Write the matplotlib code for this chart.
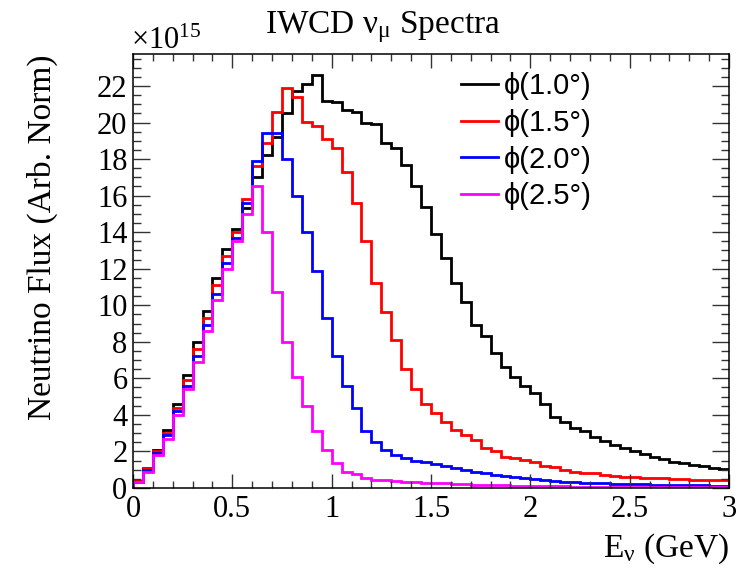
import numpy as np
import matplotlib
matplotlib.use("Agg")
import matplotlib.pyplot as plt
from matplotlib.ticker import MultipleLocator

plt.rcParams['font.family'] = ['Liberation Serif', 'DejaVu Serif']
plt.rcParams['mathtext.fontset'] = 'custom'
plt.rcParams['mathtext.rm'] = 'Liberation Serif'

# energy range of the histograms (GeV), 0.05 GeV bins
e_min, e_max = 0.0, 3.0

# flux per bin, units of 1e15 (Arb. Norm)
flux_10 = [0.4, 1.1, 2.1, 3.2, 4.6, 6.2, 8.0, 9.7, 11.5, 13.1, 14.2, 15.3, 17.0, 18.2, 19.2,
           20.5, 21.7, 22.1, 22.6, 21.2, 21.1, 20.7, 20.6, 20.0, 19.9, 18.9, 18.6, 17.7, 16.5,
           15.4, 13.9, 12.6, 11.2, 10.2, 8.9, 8.3, 7.4, 6.6, 6.1, 5.6, 5.2, 4.6, 3.9, 3.6, 3.3,
           3.1, 2.8, 2.55, 2.35, 2.17, 2.0, 1.85, 1.72, 1.6, 1.45, 1.35, 1.25, 1.2, 1.12, 1.05]
flux_15 = [0.4, 1.1, 2.0, 3.0, 4.4, 5.9, 7.6, 9.3, 11.1, 12.7, 14.0, 15.8, 17.6, 18.9, 20.6,
           21.9, 21.4, 20.05, 19.8, 19.1, 18.6, 17.3, 15.6, 13.5, 11.2, 9.65, 8.1, 6.5, 5.4,
           4.6, 4.1, 3.6, 3.17, 2.9, 2.63, 2.17, 2.0, 1.71, 1.62, 1.53, 1.44, 1.2, 1.17, 0.99,
           0.9, 0.84, 0.8, 0.7, 0.68, 0.62, 0.6, 0.57, 0.55, 0.52, 0.5, 0.48, 0.46, 0.45, 0.43, 0.42]
flux_20 = [0.35, 1.0, 1.9, 2.9, 4.2, 5.6, 7.2, 8.9, 10.6, 12.3, 13.7, 15.6, 17.9, 19.4, 19.4,
           18.0, 16.0, 14.0, 11.9, 9.3, 7.2, 5.6, 4.4, 3.1, 2.5, 2.1, 1.8, 1.65, 1.5,
           1.4, 1.3, 1.2, 1.08, 0.97, 0.88, 0.8, 0.72, 0.65, 0.58, 0.52, 0.47, 0.42, 0.38, 0.35,
           0.32, 0.3, 0.28, 0.26, 0.24, 0.22, 0.21, 0.2, 0.19, 0.18, 0.17, 0.16, 0.15, 0.14, 0.13, 0.12]
flux_25 = [0.35, 0.9, 1.8, 2.7, 4.0, 5.4, 6.9, 8.6, 10.3, 12.0, 13.5, 15.0, 16.5, 14.0, 10.7,
           8.0, 6.1, 4.5, 3.1, 2.1, 1.35, 0.9, 0.75, 0.55, 0.45, 0.42, 0.38, 0.35, 0.32, 0.3,
           0.27, 0.25, 0.22, 0.2, 0.18, 0.17, 0.15, 0.14, 0.13, 0.12, 0.11, 0.1, 0.09, 0.09, 0.08,
           0.08, 0.07, 0.07, 0.06, 0.06, 0.06, 0.05, 0.05, 0.05, 0.04, 0.04, 0.04, 0.04, 0.03, 0.03]

labels = ['ϕ(1.0°)', 'ϕ(1.5°)', 'ϕ(2.0°)', 'ϕ(2.5°)']
colors = ['black', '#ff0000', '#0000ff', '#ff00ff']

fig = plt.figure(figsize=(7.51, 5.74), dpi=100)
ax = fig.add_axes([133 / 751, 1 - 488 / 574, 596 / 751, 434 / 574])

edges = np.linspace(e_min, e_max, len(flux_10) + 1)
for vals, lab, col in zip([flux_10, flux_15, flux_20, flux_25], labels, colors):
    ax.stairs(vals, edges, baseline=0, color=col, lw=2.0, label=lab)

ax.set_xlim(e_min, e_max)
ax.set_ylim(0, 23.75)

ax.xaxis.set_major_locator(MultipleLocator(0.5))
ax.xaxis.set_minor_locator(MultipleLocator(0.1))
ax.yaxis.set_major_locator(MultipleLocator(2))
ax.yaxis.set_minor_locator(MultipleLocator(0.5))
ax.xaxis.set_major_formatter(plt.FuncFormatter(lambda v, p: '%g' % v))

ax.tick_params(which='both', direction='in', top=True, right=True, width=1.0,
               labelsize=22, color='#333333')
ax.tick_params(axis='x', which='major', length=10, pad=5)
ax.tick_params(axis='x', which='minor', length=5)
ax.tick_params(axis='y', which='major', length=12, pad=4)
ax.tick_params(axis='y', which='minor', length=6)
for s in ax.spines.values():
    s.set_linewidth(1.1)

ax.set_ylabel('Neutrino Flux (Arb. Norm)', fontsize=24, loc='top')
ax.yaxis.set_label_coords(-0.125, 1.0)
ax.set_xlabel('E$\\mathregular{_{ν}}$ (GeV)', fontsize=24, loc='right')
ax.xaxis.set_label_coords(1.0, -0.1)

fig.text(0.51, 1 - 33 / 574, 'IWCD $\\mathregular{ν_{μ}}$ Spectra', fontsize=24,
         ha='center', va='baseline')
fig.text(131 / 751, 1 - 49 / 574, '×10$\\mathregular{^{15}}$', fontsize=22,
         ha='left', va='baseline')

leg = ax.legend(loc='upper right', bbox_to_anchor=(0.79, 0.985), frameon=False,
                prop={'family': ['Liberation Sans', 'DejaVu Sans'], 'size': 21},
                handlelength=1.3, handletextpad=0.2, labelspacing=0.3,
                borderaxespad=0.0)
for ln in leg.get_lines():
    ln.set_linewidth(2.0)

fig.savefig('out.png', dpi=100)
